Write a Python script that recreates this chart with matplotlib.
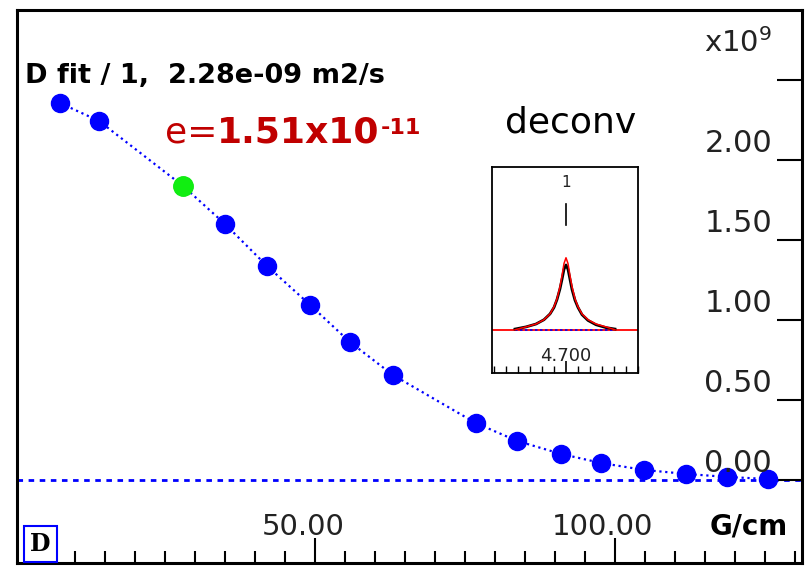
import matplotlib
matplotlib.use('Agg')
import matplotlib.pyplot as plt
import matplotlib.transforms as mtransforms
from matplotlib.ticker import MultipleLocator, FixedLocator

# gradient strength (G/cm) and fitted decay (x1e9)
gradient = [7.5, 14, 28, 35, 42, 49.2, 55.8, 63, 76.8, 83.7, 91, 97.7, 104.8, 111.8, 118.7, 125.5]
signal = [2.356, 2.244, 1.838, 1.60, 1.338, 1.094, 0.863, 0.656, 0.356, 0.244, 0.163, 0.106, 0.063, 0.038, 0.019, 0.006]
selected = 2  # index of the green point

y_ticks = [0.0, 0.5, 1.0, 1.5, 2.0, 2.5]
y_labels = ['0.00', '0.50', '1.00', '1.50', '2.00', '']
x_labels = {50: '50.00', 100: '100.00'}

# inset peak (ppm, relative intensity)
peak_ppm = [4.8275, 4.80, 4.775, 4.755, 4.74, 4.73, 4.7225, 4.715, 4.71, 4.705, 4.70,
            4.695, 4.69, 4.685, 4.6775, 4.67, 4.66, 4.645, 4.625, 4.60, 4.5775]
peak_fit = [0.0, 0.04, 0.08, 0.14, 0.22, 0.32, 0.43, 0.60, 0.75, 0.92, 1.0,
            0.92, 0.75, 0.60, 0.43, 0.32, 0.22, 0.14, 0.08, 0.04, 0.0]
peak_obs = [0.01, 0.04, 0.08, 0.14, 0.22, 0.31, 0.42, 0.57, 0.70, 0.84, 0.90,
            0.84, 0.70, 0.56, 0.41, 0.31, 0.21, 0.13, 0.07, 0.03, 0.01]

blue = '#0000ff'
red = '#c00000'
grey = '#222222'

fig = plt.figure(figsize=(8.05, 5.67), dpi=100)
ax = fig.add_axes([17/805, 4/567, 785/805, 553/567])
ax.set_xlim(0.33, 131.2)
ax.set_ylim(-0.519, 2.9375)
for s in ax.spines.values():
    s.set_linewidth(2.2)

# fit line and points
ax.plot(gradient, signal, linestyle=':', color=blue, lw=1.6, zorder=2)
ax.axhline(0, color=blue, lw=2, linestyle=(0, (2, 2)), zorder=1)
ax.plot(gradient, signal, 'o', color=blue, ms=13, mec=blue, zorder=3)
ax.plot(gradient[selected], signal[selected], 'o', color='#11ee11', ms=14, mec='#11ee11', zorder=4)

# right y axis with ticks pointing in
ax.yaxis.tick_right()
ax.yaxis.set_major_locator(FixedLocator(y_ticks))
ax.tick_params(axis='y', direction='in', length=18, width=1.5, labelright=False, colors='black')
ytrans = mtransforms.blended_transform_factory(ax.transAxes, ax.transData)
for v, lab in zip(y_ticks, y_labels):
    ax.text(0.962, v + 0.01, lab, transform=ytrans, ha='right', va='bottom',
            fontsize=22, color=grey)
ax.text(0.962, 2.73, r'x10$^{9}$', transform=ytrans, ha='right', va='center',
        fontsize=21, color=grey)

# bottom x axis, ticks pointing in
ax.xaxis.set_major_locator(FixedLocator([50, 100]))
ax.xaxis.set_minor_locator(MultipleLocator(5))
ax.tick_params(axis='x', which='major', direction='in', length=18, width=1.5, labelbottom=False)
ax.tick_params(axis='x', which='minor', direction='in', length=9, width=1.5)
xtrans = mtransforms.blended_transform_factory(ax.transData, ax.transAxes)
for v, lab in x_labels.items():
    ax.text(v - 2, 0.04, lab, transform=xtrans, ha='center', va='bottom',
            fontsize=21, color=grey)
ax.text(0.982, 0.04, 'G/cm', transform=ax.transAxes, ha='right', va='bottom',
        fontsize=20, fontweight='bold', color='black')
ax.text(0.017, 0.012, 'D', transform=ax.transAxes, ha='left', va='bottom',
        fontsize=17, fontweight='bold', family='DejaVu Serif',
        bbox=dict(boxstyle='square,pad=0.25', fc='white', ec=blue, lw=1.5))

# titles
ax.text(0.01, 0.868, 'D fit / 1,  2.28e-09 m2/s', transform=ax.transAxes,
        fontsize=19.5, fontweight='bold', color='black', va='baseline')
t1 = ax.text(0.188, 0.76, 'e=', transform=ax.transAxes, fontsize=26,
             color=red, va='baseline')
t2 = ax.annotate('1.51x10', xy=(1, 0), xycoords=t1, fontsize=26,
                 fontweight='bold', color=red, va='bottom')
ax.annotate('-11', xy=(1, 1), xycoords=t2, xytext=(1, -2), textcoords='offset points',
            fontsize=16, fontweight='bold', color=red, va='top')
ax.text(0.622, 0.779, 'deconv', transform=ax.transAxes, fontsize=26,
        color='black', ha='left', va='baseline')

# inset spectrum
ins = fig.add_axes([492/805, 1 - 373/567, 146/805, 206/567])
ins.set_xlim(4.885, 4.52)
ins.set_ylim(-0.6, 2.26)
for s in ins.spines.values():
    s.set_linewidth(1.3)
ins.axhline(0, color='red', lw=1.3, zorder=1)
ins.plot([peak_ppm[0], peak_ppm[-1]], [0, 0], color=blue, lw=1.2, linestyle=(0, (1.5, 1.5)), zorder=2)
ins.plot(peak_ppm, peak_obs, color='black', lw=2.0, zorder=3)
ins.plot(peak_ppm, peak_fit, color='red', lw=1.1, zorder=4)
ins.plot([4.70, 4.70], [1.46, 1.74], color='black', lw=1.2)
ins.text(4.70, 2.04, '1', ha='center', va='center', fontsize=11, color=grey)
ins.text(4.70, -0.36, '4.700', ha='center', va='center', fontsize=13, color=grey)
ins.xaxis.set_major_locator(FixedLocator([4.70]))
ins.xaxis.set_minor_locator(FixedLocator([4.70 + 0.03 * k for k in range(-6, 7) if k != 0]))
ins.tick_params(axis='x', which='major', direction='in', length=9, width=1.2, labelbottom=False)
ins.tick_params(axis='x', which='minor', direction='in', length=5, width=1.0)
ins.set_yticks([])

plt.savefig('out.png', dpi=100)
plt.close()
